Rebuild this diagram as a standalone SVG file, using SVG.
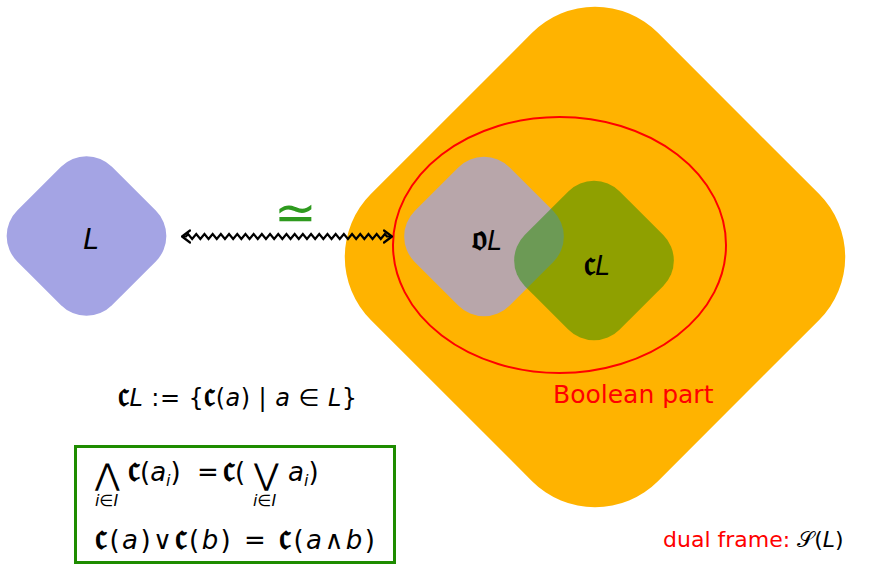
<svg xmlns="http://www.w3.org/2000/svg" width="883" height="565" viewBox="0 0 883 565">
  <defs>
    <style>
      .m { font-family: "DejaVu Sans", "Liberation Sans", sans-serif; fill: #000; }
      .it { font-style: italic; }
      .fk { font-weight: bold; }
      .red { fill: #ff0000; font-family: "DejaVu Sans", sans-serif; }
    </style>
    <marker id="chev" viewBox="0 0 10 16" refX="9" refY="8" markerWidth="10" markerHeight="16" markerUnits="userSpaceOnUse" orient="auto-start-reverse">
      <path d="M1,2 L9,8 L1,14" fill="none" stroke="#000" stroke-width="2.2" stroke-linejoin="round" stroke-linecap="round"/>
    </marker>
  </defs>
  <rect width="883" height="565" fill="#ffffff"/>

  <g id="dual-frame">
    <rect x="-203" y="-203" width="406" height="406" rx="89" fill="#FFB300" transform="translate(595,257) rotate(45)"/>
  </g>

  <g id="node-L">
    <rect x="-67" y="-67" width="134" height="134" rx="36" fill="#A4A4E4" transform="translate(86.5,236) rotate(45)"/>
    <text class="m it" x="91" y="249" font-size="28" text-anchor="middle">L</text>
  </g>

  <g id="node-oL">
    <rect x="-67" y="-67" width="134" height="134" rx="36" fill="#B8A6AA" transform="translate(484,236.5) rotate(45)"/>
  </g>

  <g id="node-cL">
    <rect x="-67" y="-67" width="134" height="134" rx="36" fill="#1F8D00" fill-opacity="0.5" transform="translate(594,260.5) rotate(45)"/>
  </g>

  <g id="boolean-part">
    <ellipse cx="559.5" cy="245" rx="166.5" ry="128" fill="none" stroke="#ff0000" stroke-width="2"/>
    <text class="red" x="553" y="403" font-size="25">Boolean part</text>
  </g>

  <g id="labels">
    <text class="m" x="487" y="250" font-size="26" text-anchor="middle"><tspan class="fk" font-size="36">𝔬</tspan><tspan class="it">L</tspan></text>
    <text class="m" x="597" y="275" font-size="26" text-anchor="middle"><tspan class="fk" font-size="36">𝔠</tspan><tspan class="it">L</tspan></text>
  </g>

  <g id="connectors">
    <path d="M182,236.5 L186,236.5 l2.05,-2.5
      l4.1,5 4.1,-5 4.1,5 4.1,-5 4.1,5 4.1,-5 4.1,5 4.1,-5
      4.1,5 4.1,-5 4.1,5 4.1,-5 4.1,5 4.1,-5 4.1,5 4.1,-5
      4.1,5 4.1,-5 4.1,5 4.1,-5 4.1,5 4.1,-5 4.1,5 4.1,-5
      4.1,5 4.1,-5 4.1,5 4.1,-5 4.1,5 4.1,-5 4.1,5 4.1,-5
      4.1,5 4.1,-5 4.1,5 4.1,-5 4.1,5 4.1,-5 4.1,5 4.1,-5
      4.1,5 4.1,-5 4.1,5 4.1,-5 4.1,5 4.1,-5 4.1,5 4.1,-5
      l2.05,2.5 L392,236.5" fill="none" stroke="#000" stroke-width="2.2" stroke-linejoin="miter" marker-start="url(#chev)" marker-end="url(#chev)"/>
    <text x="295" y="230" font-family="DejaVu Sans, sans-serif" font-weight="200" font-size="51" fill="#2E9A1E" text-anchor="middle">≃</text>
  </g>

  <g id="definition">
    <text class="m" x="118" y="406" font-size="24" textLength="239" lengthAdjust="spacing"><tspan class="fk" font-size="35">𝔠</tspan><tspan class="it">L</tspan> := {<tspan class="fk" font-size="35">𝔠</tspan>(<tspan class="it">a</tspan>) | <tspan class="it">a</tspan> ∈ <tspan class="it">L</tspan>}</text>
  </g>

  <g id="formula-box">
    <rect x="75.5" y="446.5" width="319" height="116" fill="none" stroke="#1E8C00" stroke-width="3"/>
    <text class="m" x="95" y="485" font-size="30">⋀</text>
    <text class="m it" x="95" y="506" font-size="16">i∈I</text>
    <text class="m" x="128" y="481" font-size="26"><tspan class="fk" font-size="38">𝔠</tspan>(<tspan class="it">a</tspan><tspan class="it" font-size="16" dy="5">i</tspan><tspan dy="-5">)</tspan></text>
    <text class="m" x="197" y="481" font-size="26">=</text>
    <text class="m" x="223" y="481" font-size="26"><tspan class="fk" font-size="38">𝔠</tspan>(</text>
    <text class="m" x="254" y="485" font-size="30">⋁</text>
    <text class="m" x="288" y="481" font-size="26"><tspan class="it">a</tspan><tspan class="it" font-size="16" dy="5">i</tspan><tspan dy="-5">)</tspan></text>
    <text class="m it" x="253" y="506" font-size="16">i∈I</text>
    <text class="m" x="95" y="549" font-size="26" textLength="280" lengthAdjust="spacing"><tspan class="fk" font-size="38">𝔠</tspan>(<tspan class="it">a</tspan>)∨<tspan class="fk" font-size="38">𝔠</tspan>(<tspan class="it">b</tspan>) = <tspan class="fk" font-size="38">𝔠</tspan>(<tspan class="it">a</tspan>∧<tspan class="it">b</tspan>)</text>
  </g>

  <g id="caption">
    <text class="red" x="663" y="547" font-size="22">dual frame: <tspan fill="#000">𝒮(<tspan font-style="italic">L</tspan>)</tspan></text>
  </g>
</svg>
